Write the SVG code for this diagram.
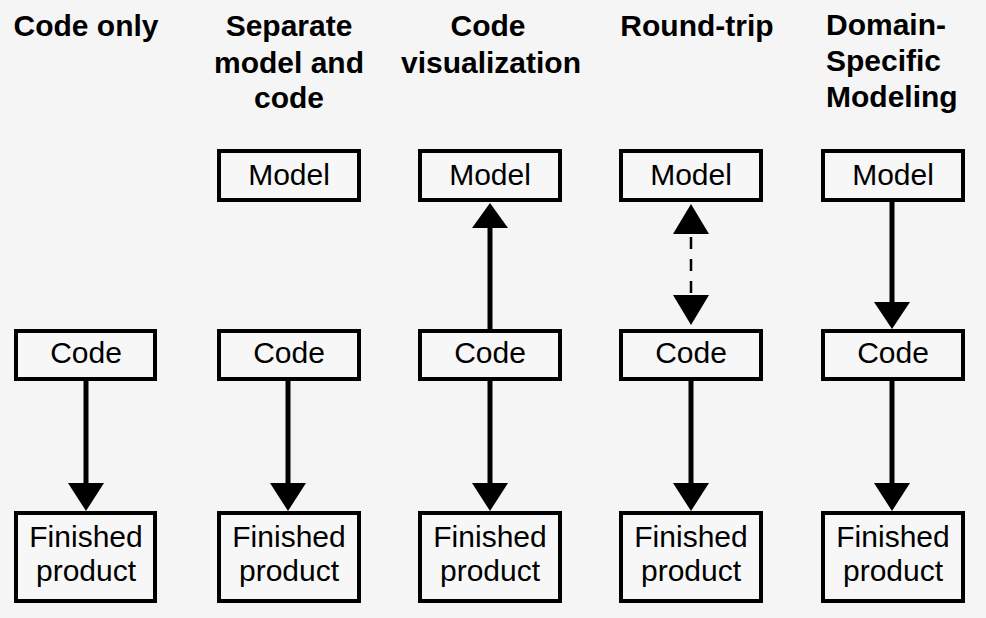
<svg xmlns="http://www.w3.org/2000/svg" width="986" height="618" viewBox="0 0 986 618">
<defs>
<style>
.bg{fill:#f5f5f5}
.box{fill:#f7f7f7;stroke:#000;stroke-width:4}
.lbl{font-family:"Liberation Sans",Arial,sans-serif;font-size:30px;fill:#000;text-anchor:middle}
.ttl{font-family:"Liberation Sans",Arial,sans-serif;font-size:30px;font-weight:bold;fill:#000;text-anchor:middle}
.ttlL{text-anchor:start}
.ln{stroke:#000;stroke-width:5;fill:none}
.dash{stroke:#000;stroke-width:2.5;fill:none;stroke-dasharray:12 10}
.head{fill:#000}
</style>
</defs>
<rect class="bg" x="0" y="0" width="986" height="618"/>

<g id="titles">
<text class="ttl" x="86" y="36">Code only</text>
<text class="ttl" x="289" y="36">Separate</text>
<text class="ttl" x="289" y="73">model and</text>
<text class="ttl" x="289" y="108">code</text>
<text class="ttl" x="488" y="36">Code</text>
<text class="ttl" x="491" y="73">visualization</text>
<text class="ttl" x="697" y="36">Round-trip</text>
<text class="ttl ttlL" x="826" y="35">Domain-</text>
<text class="ttl ttlL" x="826" y="71">Specific</text>
<text class="ttl ttlL" x="826" y="107">Modeling</text>
</g>

<g id="connectors">
<line class="ln" x1="86" y1="381" x2="86" y2="485"/>
<polygon class="head" points="68,483 104,483 86,511"/>
<line class="ln" x1="288" y1="381" x2="288" y2="485"/>
<polygon class="head" points="270,483 306,483 288,511"/>
<line class="ln" x1="490" y1="329" x2="490" y2="225"/>
<polygon class="head" points="472,228 508,228 490,203"/>
<line class="ln" x1="490" y1="381" x2="490" y2="485"/>
<polygon class="head" points="472,483 508,483 490,511"/>
<line class="dash" x1="691" y1="237" x2="691" y2="295"/>
<polygon class="head" points="673,234 709,234 691,204"/>
<polygon class="head" points="673,295 709,295 691,325"/>
<line class="ln" x1="691" y1="381" x2="691" y2="485"/>
<polygon class="head" points="673,483 709,483 691,511"/>
<line class="ln" x1="892" y1="202" x2="892" y2="304"/>
<polygon class="head" points="874,302 910,302 892,329"/>
<line class="ln" x1="892" y1="381" x2="892" y2="485"/>
<polygon class="head" points="874,483 910,483 892,511"/>
</g>

<g id="c1-code"><rect class="box" x="16" y="331" width="139" height="48"/><text class="lbl" x="86" y="363">Code</text></g>
<g id="c1-finished"><rect class="box" x="16" y="513" width="139" height="88"/><text class="lbl" x="86" y="547">Finished</text><text class="lbl" x="86" y="581">product</text></g>

<g id="c2-model"><rect class="box" x="219" y="151" width="140" height="49"/><text class="lbl" x="289" y="185">Model</text></g>
<g id="c2-code"><rect class="box" x="219" y="331" width="140" height="48"/><text class="lbl" x="289" y="363">Code</text></g>
<g id="c2-finished"><rect class="box" x="219" y="513" width="140" height="88"/><text class="lbl" x="289" y="547">Finished</text><text class="lbl" x="289" y="581">product</text></g>

<g id="c3-model"><rect class="box" x="420" y="151" width="140" height="49"/><text class="lbl" x="490" y="185">Model</text></g>
<g id="c3-code"><rect class="box" x="420" y="331" width="140" height="48"/><text class="lbl" x="490" y="363">Code</text></g>
<g id="c3-finished"><rect class="box" x="420" y="513" width="140" height="88"/><text class="lbl" x="490" y="547">Finished</text><text class="lbl" x="490" y="581">product</text></g>

<g id="c4-model"><rect class="box" x="621" y="151" width="140" height="49"/><text class="lbl" x="691" y="185">Model</text></g>
<g id="c4-code"><rect class="box" x="621" y="331" width="140" height="48"/><text class="lbl" x="691" y="363">Code</text></g>
<g id="c4-finished"><rect class="box" x="621" y="513" width="140" height="88"/><text class="lbl" x="691" y="547">Finished</text><text class="lbl" x="691" y="581">product</text></g>

<g id="c5-model"><rect class="box" x="823" y="151" width="140" height="49"/><text class="lbl" x="893" y="185">Model</text></g>
<g id="c5-code"><rect class="box" x="823" y="331" width="140" height="48"/><text class="lbl" x="893" y="363">Code</text></g>
<g id="c5-finished"><rect class="box" x="823" y="513" width="140" height="88"/><text class="lbl" x="893" y="547">Finished</text><text class="lbl" x="893" y="581">product</text></g>
</svg>
